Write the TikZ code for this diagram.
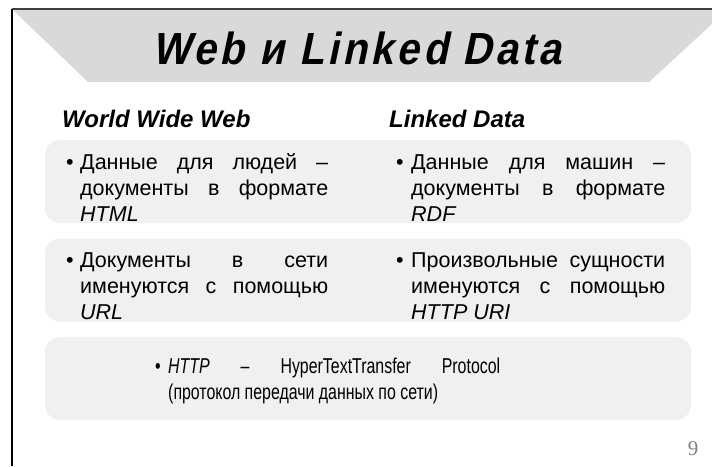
\documentclass[tikz,border=0pt]{standalone}
\usepackage{fontspec}
\setmainfont{Liberation Sans}
\newfontfamily\titlefont[LetterSpace=8, FakeStretch=0.9, FakeSlant=0.21]{Liberation Sans}
\newfontfamily\narrowfont[FakeStretch=0.74]{Liberation Sans}
\newfontfamily\pagefont{Liberation Serif}

\definecolor{slidegray}{HTML}{D9D9D9}
\definecolor{boxgray}{HTML}{F0F0F0}
\definecolor{numgray}{HTML}{7F7F7F}

\newcommand{\bodysize}{\fontsize{21.5}{26}\selectfont}
\newcommand{\itm}[1]{\leftskip=#1\noindent\hspace*{-#1}\makebox[#1][l]{\textbullet}\strut}

\tikzset{
	band/.style={rectangle, rounded corners=15pt, fill=boxgray, inner sep=0pt, minimum width=646, minimum height=83},
	para/.style={anchor=north west, inner sep=0pt, align=justify, font=\bodysize},
	head/.style={anchor=base west, inner sep=0pt, font=\fontsize{24}{28}\selectfont\bfseries\itshape},
}

\begin{document}
\begin{tikzpicture}[x=1pt,y=-1pt]

	\useasboundingbox (0,0) rectangle (712,466);

	% slide frame and title band
	\fill[slidegray] (13,10) -- (712,10) -- (712,24) -- (649,82) -- (88,82) -- cycle;

	\coordinate	(fTL)	at	(12,9);
	\coordinate	(fTR)	at	(712,9);
	\coordinate	(fBL)	at	(12,466);
	\draw[line width=1.5pt, black!75]	(fTR)	--	(fTL);
	\draw[line width=2pt, black]	(fTL)	--	(fBL);

	\node 	(title)	at	(357,64) 	[anchor=base, inner sep=0pt, font=\titlefont\fontsize{45}{50}\selectfont\bfseries]{Web и Linked Data};

	\node 	(hwww)	at	(62,127) 	[head]{World Wide Web};
	\node 	(hld)	at	(389,127) 	[head]{Linked Data};

	% grey rows
	\node 	(rowA)	at	(368,181.5) 	[band]{};
	\node 	(rowB)	at	(368,280) 	[band]{};
	\node 	(rowC)	at	(368,378.5) 	[band]{};

	\node 	(wwwA)	at	(66,151) 	[para, text width=262]{\itm{14pt}Данные для людей –\linebreak документы в формате\linebreak \textit{HTML}\par};
	\node 	(ldA)	at	(396,151) 	[para, text width=269]{\itm{15pt}Данные для машин –\linebreak документы в формате\linebreak \textit{RDF}\par};

	\node 	(wwwB)	at	(66,249) 	[para, text width=262]{\itm{14pt}Документы в сети\linebreak именуются с помощью\linebreak \textit{URL}\par};
	\node 	(ldB)	at	(396,249) 	[para, text width=269]{\itm{15pt}Произвольные сущности\linebreak именуются с помощью\linebreak \textit{HTTP URI}\par};

	\node 	(http)	at	(155,355) 	[para, text width=345]{\narrowfont\itm{13pt}\textit{HTTP} – HyperTextTransfer Protocol\linebreak (протокол передачи данных по сети)\par};

	\node 	(pnum)	at	(693,455) 	[anchor=base, inner sep=0pt, font=\pagefont\fontsize{21}{24}\selectfont, text=numgray]{9};

\end{tikzpicture}
\end{document}
